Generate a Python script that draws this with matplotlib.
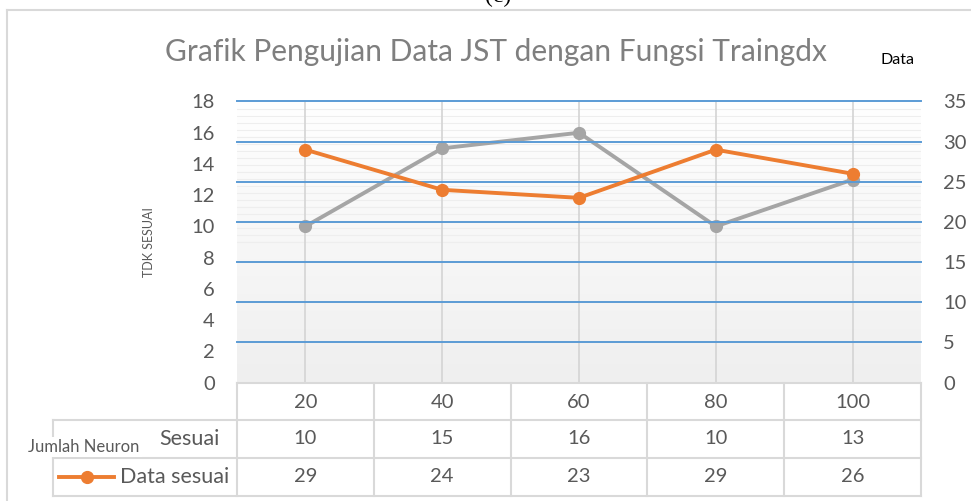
import numpy as np
import matplotlib
matplotlib.use("Agg")
import matplotlib.pyplot as plt
from matplotlib.lines import Line2D

# data
neurons = ["20", "40", "60", "80", "100"]
sesuai = [10, 15, 16, 10, 13]
data_sesuai = [29, 24, 23, 29, 26]

plt.rcParams['font.family'] = ['Lato', 'DejaVu Sans']

W, H = 971, 501
fig = plt.figure(figsize=(W / 100, H / 100), dpi=100)

# plot area in pixels
L, R, T, B = 237, 921, 101.5, 382.5
ax = fig.add_axes([L / W, 1 - B / H, (R - L) / W, (B - T) / H])
ax2 = ax.twinx()

x = np.arange(len(neurons))
ax.set_xlim(-0.5, len(neurons) - 0.5)
ax.set_ylim(0, 18)
ax2.set_ylim(0, 35)

# gradient background, white at top to light gray at bottom
grad = np.linspace(0.0, 1.0, 256).reshape(-1, 1)
ax.imshow(grad, extent=[-0.5, len(neurons) - 0.5, 0, 18], aspect='auto',
          cmap=matplotlib.colors.LinearSegmentedColormap.from_list('g', ['#efefef', '#ffffff']),
          origin='lower', zorder=0)
for yy in np.arange(9.0, 18, 0.45):
    ax.axhline(yy, color='#eeeeee', lw=0.8, zorder=0.5)

for xi in x:
    ax.axvline(xi, color='#d4d4d4', lw=1.2, zorder=1)
for yy in range(5, 36, 5):
    ax2.axhline(yy, color='#5b9bd5', lw=1.4, zorder=1, clip_on=False)

ax.plot(x, sesuai, color='#a5a5a5', lw=2.8, marker='o', ms=8.5, zorder=3)
ax2.plot(x, data_sesuai, color='#ed7d31', lw=2.8, marker='o', ms=8.5, zorder=3)

ax.set_yticks(range(0, 19, 2))
ax2.set_yticks(range(0, 36, 5))
ax.set_xticks([])
for a in (ax, ax2):
    a.tick_params(axis='y', length=0, labelsize=14.5, labelcolor='#595959', pad=16)
    for s in a.spines.values():
        s.set_visible(False)
ax.set_ylabel("TDK SESUAI", fontsize=9, color='#595959', labelpad=26)

# overlays for title, table, frame (pixel coordinates)
ov = fig.add_axes([0, 0, 1, 1], zorder=-1)
ov.set_xlim(0, W)
ov.set_ylim(H, 0)
ov.axis('off')
ov2 = fig.add_axes([0, 0, 1, 1], zorder=5)
ov2.set_xlim(0, W)
ov2.set_ylim(H, 0)
ov2.axis('off')
ov2.patch.set_alpha(0)

ov.plot([7, 7], [10, H], color='#d9d9d9', lw=1.5)
ov.plot([7, W], [10, 10], color='#d9d9d9', lw=1.5)
ov2.text(498, -4, "(c)", ha='center', va='center', fontsize=17, family='Liberation Serif', color='black')

ov2.text(496, 52, "Grafik Pengujian Data JST dengan Fungsi Traingdx", ha='center', va='center',
         fontsize=21.5, color='#7f7f7f')
ov2.text(898, 60, "Data", ha='center', va='center', fontsize=11.5, color='black')

# table
gc = '#d9d9d9'
cw = (R - L) / len(neurons)
rows = [383, 420, 458, 496]
ov2.plot([L, R], [rows[0], rows[0]], color=gc, lw=1.5)
for ry in rows[1:]:
    ov2.plot([53, R], [ry, ry], color=gc, lw=1.5)
for i in range(len(neurons) + 1):
    ov2.plot([L + i * cw] * 2, [rows[0], rows[-1]], color=gc, lw=1.5)
ov2.plot([53, 53], [rows[1], rows[-1]], color=gc, lw=1.5)

for i, lab in enumerate(neurons):
    cx = L + cw * (i + 0.5)
    ov2.text(cx, 402, lab, ha='center', va='center', fontsize=14.5, color='#595959')
    ov2.text(cx, 439, str(sesuai[i]), ha='center', va='center', fontsize=14.5, color='#595959')
    ov2.text(cx, 477, str(data_sesuai[i]), ha='center', va='center', fontsize=14.5, color='#595959')

ov2.text(220, 439, "Sesuai", ha='right', va='center', fontsize=15.5, color='#595959')
ov2.text(229, 477, "Data sesuai", ha='right', va='center', fontsize=15.5, color='#595959')
ov2.add_line(Line2D([59, 114], [477, 477], color='#ed7d31', lw=2.8, zorder=6))
ov2.plot([86.5], [477], marker='o', color='#ed7d31', ms=8.5, zorder=7)
ov2.text(84, 447, "Jumlah Neuron", ha='center', va='center', fontsize=12, color='#595959',
         bbox=dict(facecolor='white', edgecolor='none', pad=1.5))

fig.savefig("out.png", dpi=100)
